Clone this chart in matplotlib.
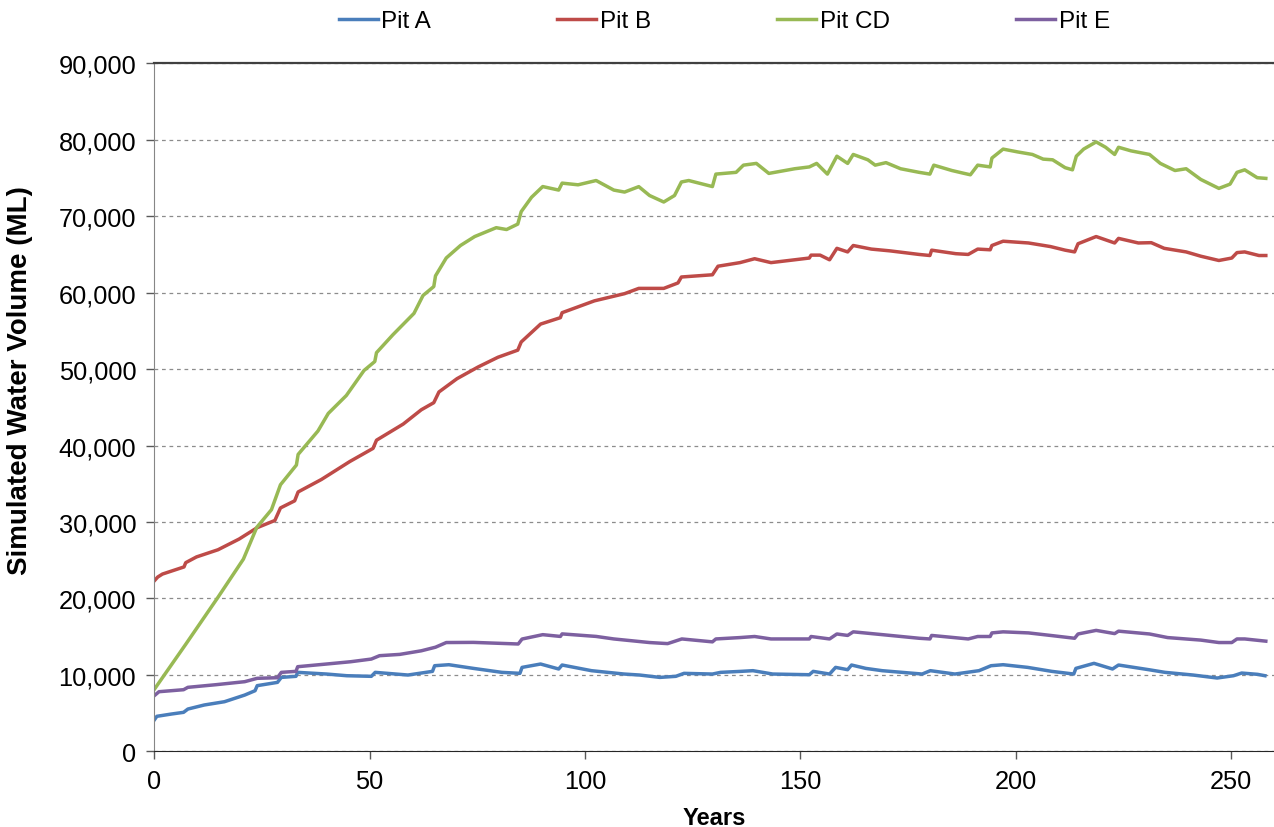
import matplotlib
matplotlib.use("Agg")
import matplotlib.pyplot as plt
from matplotlib.ticker import FuncFormatter

plt.rcParams['font.family'] = ['Liberation Sans', 'DejaVu Sans']

# simulated pit water volumes (ML) against years
years_a = [0, 0.6, 4.0, 6.8, 7.8, 11.6, 16.3, 21.0, 23.4, 23.9, 28.6, 29.5, 32.9, 33.3, 40.0,
           44.7, 50.4, 51.3, 58.9, 64.6, 65.1, 68.4, 74.1, 80.7, 84.9, 85.4, 89.7, 93.9, 94.7,
           101.5, 109.1, 112.7, 117.4, 121.1, 123.0, 129.6, 131.5, 136.2, 139.0, 143.6, 152.1,
           153.0, 156.8, 158.2, 161.0, 161.9, 165.2, 169.0, 178.3, 180.2, 185.9, 191.5, 194.3,
           197.1, 202.8, 208.4, 213.5, 214.0, 218.2, 222.5, 223.9, 230.9, 234.7, 241.2, 246.8,
           250.6, 252.5, 256.2, 257.9]
pit_a = [4100, 4580, 4880, 5100, 5530, 6060, 6490, 7360, 7930, 8590, 9020, 9670, 9810, 10330, 10110,
         9890, 9810, 10330, 9980, 10460, 11200, 11330, 10850, 10330, 10200, 10980, 11420, 10770, 11290,
         10550, 10110, 9980, 9670, 9810, 10200, 10110, 10330, 10460, 10550, 10110, 10020,
         10460, 10110, 10980, 10680, 11290, 10850, 10550, 10110, 10550, 10110, 10550, 11200,
         11330, 10980, 10460, 10110, 10850, 11510, 10770, 11290, 10680, 10330, 9980, 9590,
         9890, 10240, 10070, 9890]

years_b = [0, 0.8, 1.9, 6.9, 7.3, 9.8, 14.8, 19.7, 23.9, 28.0, 29.3, 32.6, 33.4, 38.8, 45.4,
           50.8, 51.6, 57.8, 62.0, 64.9, 66.1, 70.3, 75.2, 79.8, 84.4, 85.2, 89.7, 94.3, 94.7,
           102.2, 109.2, 112.5, 118.3, 121.6, 122.4, 129.6, 130.9, 136.0, 139.4, 143.2, 148.7,
           152.1, 152.5, 154.6, 156.8, 158.5, 161.0, 162.3, 166.5, 170.8, 177.6, 180.1, 180.5,
           186.1, 189.0, 191.2, 194.1, 194.5, 197.1, 203.0, 208.1, 211.5, 213.7, 214.5, 218.7,
           223.0, 223.9, 228.5, 231.5, 234.5, 239.6, 243.0, 247.2, 250.2, 251.4, 253.2, 256.5, 258.1]
pit_b = [22300, 22800, 23190, 24120, 24680, 25430, 26370, 27770, 29260, 30200, 31840, 32770, 33930,
         35560, 37910, 39630, 40700, 42810, 44680, 45610, 47010, 48750, 50280, 51550, 52480, 53550,
         55890, 56730, 57380, 58930, 59870, 60560, 60560, 61270, 62050, 62340, 63460, 63930, 64440,
         63930, 64300, 64530, 64910, 64910, 64300, 65800, 65330, 66170, 65700, 65470, 65000, 64860,
         65560, 65100, 65000, 65700, 65610, 66170, 66730, 66500, 66030, 65560, 65330, 66400, 67340,
         66500, 67100, 66500, 66540, 65800, 65330, 64770, 64210, 64530, 65240, 65330, 64860, 64860]

years_cd = [0, 7.3, 14.8, 20.7, 23.8, 27.2, 28.4, 29.3, 33.0, 33.4, 38.0, 40.4, 44.6, 48.7, 51.2,
            51.6, 55.4, 60.3, 62.4, 64.9, 65.3, 67.8, 71.1, 74.4, 79.4, 81.8, 84.4, 85.2, 87.6,
            90.2, 93.9, 94.7, 98.4, 102.6, 106.7, 109.2, 112.5, 115.0, 118.3, 120.8, 122.4, 124.1,
            129.6, 130.4, 135.1, 136.8, 139.8, 142.7, 148.7, 152.1, 153.8, 156.3, 158.5, 161.0,
            162.3, 165.7, 167.4, 169.9, 173.3, 177.6, 180.1, 181.0, 185.2, 187.7, 189.5, 191.2,
            194.1, 194.5, 197.1, 200.5, 203.9, 206.4, 208.6, 211.5, 213.2, 214.1, 215.8, 218.7,
            220.9, 223.0, 223.9, 226.8, 231.1, 233.6, 237.0, 239.6, 243.0, 247.2, 249.8, 251.4,
            253.2, 256.1, 258.1]
pit_cd = [8100, 14000, 20160, 25150, 29300, 31600, 33470, 34870, 37450, 38840, 41900, 44200, 46550,
          49820, 50990, 52150, 54490, 57290, 59630, 60800, 62200, 64540, 66170, 67340, 68500, 68260,
          68970, 70600, 72480, 73880, 73420, 74330, 74110, 74670, 73420, 73160, 73870, 72710, 71860,
          72710, 74480, 74670, 73880, 75510, 75740, 76680, 76910, 75600, 76210, 76450, 76910, 75510,
          77850, 76910, 78080, 77380, 76680, 77010, 76210, 75740, 75510, 76680, 75980, 75650, 75420,
          76680, 76450, 77610, 78780, 78410, 78080, 77470, 77380, 76350, 76070, 77850, 78780, 79720,
          79020, 78080, 79020, 78550, 78080, 76910, 75980, 76210, 74810, 73640, 74200, 75740,
          76070, 75040, 74950]

years_e = [0, 1.1, 6.8, 7.8, 14.4, 21.0, 23.9, 28.6, 29.5, 32.9, 33.3, 40.0, 45.6, 50.4, 52.3,
           57.0, 62.0, 65.3, 67.8, 74.1, 84.5, 85.4, 90.2, 94.3, 94.7, 102.6, 106.7, 115.0, 119.2,
           122.5, 129.6, 130.4, 136.0, 139.4, 143.2, 152.1, 152.5, 156.8, 158.5, 161.0, 162.3,
           169.1, 177.6, 180.1, 180.5, 189.0, 191.2, 194.1, 194.5, 197.1, 203.0, 208.1, 213.7,
           214.5, 218.7, 223.0, 223.9, 231.1, 235.3, 243.0, 247.2, 250.2, 251.4, 253.2, 258.1]
pit_e = [7280, 7800, 8060, 8370, 8720, 9110, 9550, 9630, 10330, 10460, 11070, 11420, 11720, 12070,
         12510, 12680, 13150, 13620, 14230, 14250, 14040, 14690, 15260, 15030, 15360, 15030, 14700,
         14230, 14090, 14700, 14320, 14700, 14880, 15020, 14700, 14700, 15020, 14700, 15350, 15160,
         15630, 15260, 14790, 14700, 15160, 14700, 15020, 15020, 15490, 15630, 15490, 15160, 14790,
         15350, 15820, 15400, 15720, 15350, 14880, 14550, 14230, 14230, 14700, 14700, 14410]

series = [
    ("Pit A", years_a, pit_a, "#4A7EBB"),
    ("Pit B", years_b, pit_b, "#BE4B48"),
    ("Pit CD", years_cd, pit_cd, "#98B954"),
    ("Pit E", years_e, pit_e, "#7D60A0"),
]

fig = plt.figure(figsize=(12.74, 8.28), dpi=100)
ax = fig.add_axes([0.1211, 0.0914, 0.8789, 0.8309])

for name, x, y, col in series:
    ax.plot(x, y, color=col, lw=2.5, label=name, solid_joinstyle='round')

ax.set_xlim(0, 260)
ax.set_ylim(0, 90000)
ax.set_xticks([0, 50, 100, 150, 200, 250])
ax.set_yticks(range(0, 90001, 10000))
ax.yaxis.set_major_formatter(FuncFormatter(lambda v, p: f"{int(v):,}"))

ax.grid(axis='y', color='#8c8c8c', lw=0.9, linestyle=(0, (3, 3)))
ax.set_axisbelow(True)

ax.spines['right'].set_visible(False)
ax.spines['left'].set_color('#868686')
ax.spines['bottom'].set_color('#262626')
ax.spines['top'].set_color('#404040')
ax.spines['top'].set_linewidth(1.6)
ax.tick_params(axis='both', direction='out', length=6, width=1, color='#595959',
               labelsize=18.3, pad=7)

ax.set_xlabel("Years", fontsize=17, fontweight='bold', labelpad=9)
ax.set_ylabel("Simulated Water Volume (ML)", fontsize=20, fontweight='bold')
ax.yaxis.set_label_coords(-0.108, 0.54)

fig.legend(loc='upper center', bbox_to_anchor=(0.5686, 1.013), ncol=4, frameon=False,
           fontsize=17.5, handlelength=1.6, handletextpad=0.15, columnspacing=5.2)

fig.savefig("out.png", dpi=100)
